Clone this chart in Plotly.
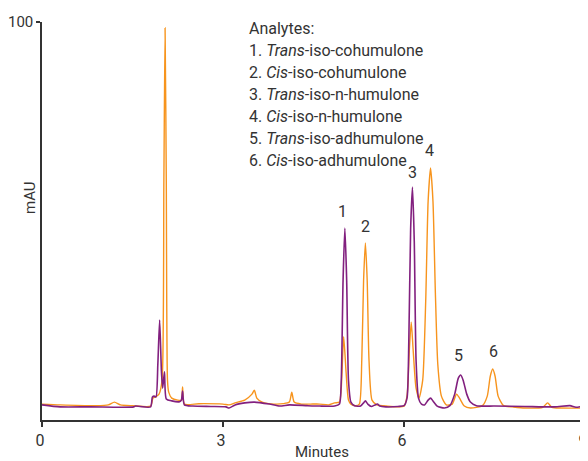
import plotly.graph_objects as go

# ---- data ----
purple_t = [0.00, 0.30, 0.80, 1.30, 1.52, 1.55, 1.80, 1.83, 1.86, 1.89, 1.92, 1.95, 1.98, 2.00,
            2.03, 2.06, 2.15, 2.28, 2.31, 2.33, 2.36, 2.50, 2.80, 3.05, 3.10, 3.20, 3.36, 3.52,
            3.77, 3.94, 4.10, 4.40, 4.60, 4.85, 4.93, 4.96, 4.99, 5.02, 5.05, 5.08, 5.12, 5.18,
            5.28, 5.33, 5.36, 5.40, 5.46, 5.52, 5.56, 5.60, 5.70, 5.90, 6.00, 6.05, 6.08, 6.11,
            6.14, 6.17, 6.20, 6.24, 6.29, 6.34, 6.40, 6.44, 6.48, 6.55, 6.67, 6.76, 6.84, 6.90,
            6.94, 6.98, 7.04, 7.10, 7.20, 7.50, 8.00, 8.50, 8.75, 8.85, 9.00]
purple_v = [3.8, 3.3, 3.3, 3.2, 3.3, 3.5, 3.3, 5.8, 6.0, 5.8, 14.0, 25.1, 12.0, 8.0,
            12.1, 5.3, 4.8, 4.6, 5.0, 7.3, 3.8, 3.5, 3.4, 3.3, 3.0, 3.8, 4.3, 4.5,
            4.0, 3.5, 3.8, 3.6, 3.5, 3.5, 4.0, 10.0, 35.0, 48.2, 35.0, 10.0, 4.5, 3.6,
            3.5, 4.3, 4.8, 4.0, 3.4, 3.8, 4.0, 3.5, 3.3, 3.4, 3.6, 5.5, 20.0, 48.0,
            58.5, 45.0, 15.0, 5.5, 4.0, 3.8, 5.0, 5.5, 4.8, 3.5, 3.0, 3.6, 6.5, 10.5,
            11.3, 10.0, 6.5, 4.5, 3.6, 3.5, 3.4, 3.3, 3.6, 3.2, 3.6]

orange_t = [0.00, 0.30, 0.90, 1.10, 1.20, 1.30, 1.50, 1.80, 1.84, 1.88, 1.94, 1.99, 2.02, 2.04,
            2.06, 2.08, 2.10, 2.15, 2.25, 2.31, 2.33, 2.36, 2.60, 3.00, 3.10, 3.20, 3.36, 3.48,
            3.52, 3.56, 3.65, 3.85, 4.00, 4.10, 4.14, 4.18, 4.30, 4.45, 4.60, 4.75, 4.85, 4.93,
            4.96, 5.00, 5.04, 5.08, 5.12, 5.20, 5.26, 5.30, 5.33, 5.36, 5.39, 5.42, 5.47, 5.55,
            5.70, 6.00, 6.05, 6.09, 6.12, 6.15, 6.20, 6.25, 6.31, 6.36, 6.40, 6.44, 6.48, 6.52,
            6.56, 6.62, 6.70, 6.80, 6.87, 6.92, 7.00, 7.10, 7.30, 7.38, 7.43, 7.47, 7.51, 7.56,
            7.65, 7.80, 8.00, 8.30, 8.38, 8.45, 8.60, 9.00]
orange_v = [4.0, 3.8, 3.6, 3.8, 4.5, 3.8, 3.6, 3.5, 5.5, 5.8, 6.5, 10.0, 60.0, 98.5,
            60.0, 10.0, 7.0, 5.5, 5.0, 5.0, 8.3, 4.0, 4.1, 4.0, 3.8, 4.3, 5.0, 6.5,
            7.5, 5.5, 4.5, 4.0, 4.1, 4.5, 7.0, 4.5, 4.0, 4.0, 4.0, 3.8, 4.3, 4.5,
            8.0, 20.9, 12.0, 5.0, 4.0, 3.6, 4.0, 15.0, 35.0, 44.5, 35.0, 15.0, 5.0, 3.8,
            3.5, 3.5, 6.0, 18.0, 24.6, 18.0, 8.0, 5.5, 10.0, 30.0, 55.0, 63.3, 55.0, 32.0,
            14.0, 6.0, 3.8, 4.0, 6.5, 5.5, 3.5, 3.0, 3.6, 6.0, 11.0, 12.8, 11.0, 6.0,
            3.6, 3.3, 3.0, 3.2, 4.3, 3.2, 3.0, 3.0]

peak_labels = ["1", "2", "3", "4", "5", "6"]
peak_label_t = [4.98, 5.36, 6.14, 6.43, 6.91, 7.49]
peak_label_v = [52.5, 48.7, 62.1, 67.8, 16.1, 17.1]

legend_lines = ["Analytes:",
                "1. <i>Trans</i>-iso-cohumulone",
                "2. <i>Cis</i>-iso-cohumulone",
                "3. <i>Trans</i>-iso-n-humulone",
                "4. <i>Cis</i>-iso-n-humulone",
                "5. <i>Trans</i>-iso-adhumulone",
                "6. <i>Cis</i>-iso-adhumulone"]

x_ticks = [0, 3, 6, 9]
y_ticks = [100]

PURPLE = "#82207f"
ORANGE = "#f7941d"
TEXT = "#333333"
FONT = "Roboto"

fig = go.Figure()
fig.add_trace(go.Scatter(x=orange_t, y=orange_v, mode="lines",
                         line=dict(color=ORANGE, width=1.4, shape="spline", smoothing=0.6),
                         hoverinfo="skip"))
fig.add_trace(go.Scatter(x=purple_t, y=purple_v, mode="lines",
                         line=dict(color=PURPLE, width=1.6, shape="spline", smoothing=0.6),
                         hoverinfo="skip"))

annotations = []
for lab, t, v in zip(peak_labels, peak_label_t, peak_label_v):
    annotations.append(dict(x=t, y=v, text=lab, showarrow=False, xref="x", yref="y",
                            font=dict(size=16, color=TEXT, family=FONT)))

# legend block, one line per annotation (page pixel positions -> paper coords)
top_px = 17
step_px = 22
for i, line in enumerate(legend_lines):
    ypx = top_px + i * step_px
    annotations.append(dict(x=(247 - 42) / 543, y=(420 - ypx) / 398, xref="paper", yref="paper",
                            text=line, showarrow=False, xanchor="left", yanchor="top",
                            font=dict(size=16, color=TEXT, family=FONT)))

annotations.append(dict(x=(322 - 42) / 543, y=(420 - 452) / 398, xref="paper", yref="paper",
                        text="Minutes", showarrow=False, xanchor="center", yanchor="middle",
                        font=dict(size=15, color=TEXT, family=FONT)))
annotations.append(dict(x=(30 - 42) / 543, y=(420 - 198) / 398, xref="paper", yref="paper",
                        text="mAU", showarrow=False, textangle=-90, xanchor="center", yanchor="middle",
                        font=dict(size=15, color=TEXT, family=FONT)))

# the page body adds an 8px margin, so the figure is 8px smaller than the window
fig.update_layout(
    width=580, height=453,
    margin=dict(l=34, r=3, t=14, b=41),
    paper_bgcolor="white", plot_bgcolor="white",
    showlegend=False,
    annotations=annotations,
    font=dict(family=FONT, color=TEXT, size=16),
    xaxis=dict(range=[0, 9], tickvals=x_ticks, ticktext=[str(v) for v in x_ticks],
               automargin=False, ticklabeloverflow="allow", ticklabelshift=-2,
               showgrid=False, zeroline=False, showline=True, linecolor=TEXT, linewidth=1.5,
               ticks="outside", ticklen=5, tickcolor=TEXT, tickwidth=1.5,
               tickfont=dict(size=16, color=TEXT, family=FONT)),
    yaxis=dict(range=[0, 100], tickvals=y_ticks, ticktext=[str(v) for v in y_ticks],
               automargin=False, ticklabeloverflow="allow",
               showgrid=False, zeroline=False, showline=True, linecolor=TEXT, linewidth=1.5,
               ticks="outside", ticklen=4, tickcolor=TEXT, tickwidth=1.5,
               tickfont=dict(size=15, color=TEXT, family=FONT)),
)

fig.write_html("out.html")
